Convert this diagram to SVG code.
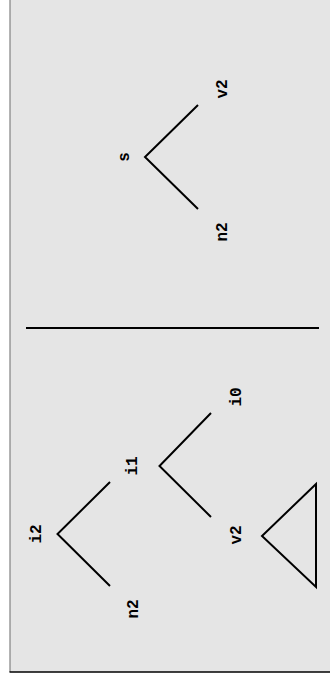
<svg xmlns="http://www.w3.org/2000/svg" width="330" height="689" viewBox="0 0 330 689">
<style>
.lbl{font-family:"Liberation Mono","Courier New",monospace;font-weight:bold;font-size:16px;fill:#000;text-anchor:middle}
.ln{stroke:#000;stroke-width:2;fill:none;stroke-linecap:butt}
</style>
<rect x="10" y="0" width="320" height="672" fill="#e5e5e5"/>
<line x1="10" y1="0" x2="10" y2="672" stroke="#808080" stroke-width="1.2"/>
<line x1="9.5" y1="672" x2="330" y2="672" stroke="#000" stroke-width="1.6"/>
<g id="connectors">
<path class="ln" d="M198,105 L145,157 L198,209"/>
<line class="ln" x1="26" y1="328" x2="319" y2="328"/>
<path class="ln" d="M110,482 L57.5,534 L110,586"/>
<path class="ln" d="M211,413 L159.5,466 L211,517"/>
<path class="ln" d="M316,484 L262,536 L316,587 Z"/>
</g>
<g id="s"><text class="lbl" transform="translate(123.5,157) rotate(-90)" dy="0.35em">s</text></g>
<g id="v2a"><text class="lbl" transform="translate(221,89) rotate(-90)" dy="0.35em">v2</text></g>
<g id="n2a"><text class="lbl" transform="translate(221,232) rotate(-90)" dy="0.35em">n2</text></g>
<g id="i0"><text class="lbl" transform="translate(235,397) rotate(-90)" dy="0.35em">i0</text></g>
<g id="i1"><text class="lbl" transform="translate(131,466) rotate(-90)" dy="0.35em">i1</text></g>
<g id="i2"><text class="lbl" transform="translate(35,534) rotate(-90)" dy="0.35em">i2</text></g>
<g id="v2b"><text class="lbl" transform="translate(235,535) rotate(-90)" dy="0.35em">v2</text></g>
<g id="n2b"><text class="lbl" transform="translate(132,609) rotate(-90)" dy="0.35em">n2</text></g>
</svg>
